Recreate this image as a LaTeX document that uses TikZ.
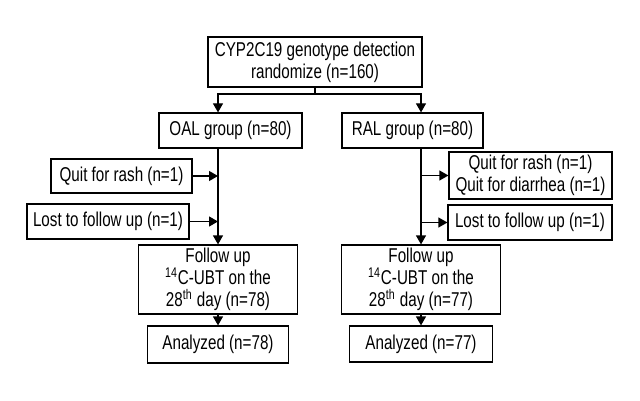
\documentclass[tikz,border=0pt]{standalone}
\usepackage{fontspec}
\setmainfont[FakeStretch=0.76]{Liberation Sans}
\usepackage{tikz}
\usetikzlibrary{arrows.meta}

\begin{document}
\begin{tikzpicture}[x=0.5pt,y=-0.5pt,
  box/.style={draw,line width=0.6pt,align=center,inner sep=0pt,
    font=\fontsize{10}{11}\selectfont},
  arr/.style={line width=0.6pt,-{Triangle[length=4.5pt,width=5pt]}}]
\useasboundingbox (0,0) rectangle (640,400);
\node[box,minimum width=107pt,minimum height=25pt] (top) at (315,62) {CYP2C19 genotype detection\\randomize (n=160)};
\node[box,minimum width=71.5pt,minimum height=17.5pt] (oal) at (230.5,130.5) {OAL group (n=80)};
\node[box,minimum width=70.5pt,minimum height=17.5pt] (ral) at (412.5,130.5) {RAL group (n=80)};
\node[box,minimum width=70.5pt,minimum height=17pt] (quitl) at (121.5,176) {Quit for rash (n=1)};
\node[box,minimum width=81pt,minimum height=17.5pt] (lostl) at (108,221.5) {Lost to follow up (n=1)};
\node[box,minimum width=81.5pt,minimum height=23.5pt] (quitr) at (530.5,175.5) {Quit for rash (n=1)\\Quit for diarrhea (n=1)};
\node[box,minimum width=82pt,minimum height=17.5pt] (lostr) at (530,222.5) {Lost to follow up (n=1)};
\node[box,minimum width=79.5pt,minimum height=34.5pt] (followl) at (218,279.5) {Follow up\\\textsuperscript{14}C-UBT on the\\28\textsuperscript{th} day (n=78)};
\node[box,minimum width=79.5pt,minimum height=34.5pt] (followr) at (421,279.5) {Follow up\\\textsuperscript{14}C-UBT on the\\28\textsuperscript{th} day (n=77)};
\node[box,minimum width=70.5pt,minimum height=18.5pt] (anal) at (218,344.5) {Analyzed (n=78)};
\node[box,minimum width=71.5pt,minimum height=18pt] (anar) at (421,344) {Analyzed (n=77)};
\coordinate (split) at (315,94);
\draw[line width=0.6pt] (top.south) -- (split);
\draw[arr] (split) -| (oal.north -| followl.north);
\draw[arr] (split) -| (ral.north -| followr.north);
\draw[arr] (oal.south -| followl.north) -- (followl.north);
\draw[arr] (ral.south -| followr.north) -- (followr.north);
\draw[arr] (quitl.east) -- (quitl.east -| followl.north);
\draw[arr] (lostl.east) -- (lostl.east -| followl.north);
\draw[arr] (quitr.west -| followr.north) -- (quitr.west);
\draw[arr] (lostr.west -| followr.north) -- (lostr.west);
\draw[arr] (followl.south) -- (anal.north);
\draw[arr] (followr.south) -- (anar.north);
\end{tikzpicture}
\end{document}
